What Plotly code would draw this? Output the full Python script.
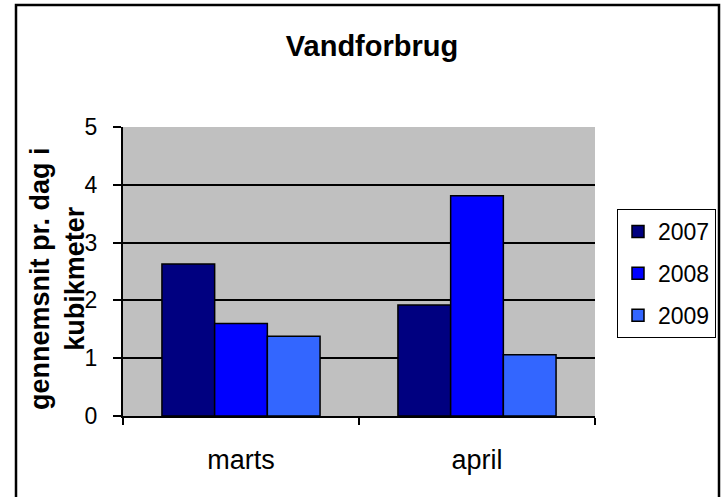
import plotly.graph_objects as go

categories = ["marts", "april"]
series_names = ["2007", "2008", "2009"]
values_2007 = [2.63, 1.92]
values_2008 = [1.60, 3.81]
values_2009 = [1.38, 1.06]
series_colors = ["#000080", "#0000FF", "#3366FF"]
y_ticks = [0, 1, 2, 3, 4, 5]

FONT = "Arial, Liberation Sans, sans-serif"

fig = go.Figure()
for i, (name, vals) in enumerate(zip(series_names, [values_2007, values_2008, values_2009])):
    fig.add_trace(go.Bar(
        x=categories, y=vals, name=name,
        legendgroup=name,
        marker=dict(color=series_colors[i], line=dict(color="black", width=1.5)),
    ))

W, H = 724, 497
L, R, T, B = 123, 724 - 595, 127, 497 - 416
pw, ph = W - L - R, H - T - B

def px_x(x):
    return (x - L) / pw

def px_y(y):
    return (H - B - y) / ph

fig.update_layout(
    width=W, height=H,
    margin=dict(l=L, r=R, t=T, b=B, autoexpand=False),
    paper_bgcolor="white",
    plot_bgcolor="#C0C0C0",
    font=dict(family=FONT, color="black", size=22),
    barmode="group",
    bargap=0.33,
    bargroupgap=0,
    title=dict(text="<b>Vandforbrug</b>", x=372 / W, xanchor="center",
               y=1 - 46 / H, yanchor="middle",
               font=dict(size=29, family=FONT, color="black")),
    legend=dict(
        xref="container", yref="container",
        x=617 / W, xanchor="left", y=1 - 209 / H, yanchor="top",
        bordercolor="black", borderwidth=1, bgcolor="white",
        font=dict(size=23, family=FONT, color="black"),
        tracegroupgap=9, itemwidth=30,
    ),
    showlegend=True,
)

fig.update_xaxes(
    showline=True, linecolor="black", linewidth=2,
    ticks="outside", ticklen=7, tickwidth=1.5, tickcolor="black",
    tickson="boundaries", showgrid=False,
    ticklabelstandoff=19,
    tickfont=dict(size=27, family=FONT, color="black"),
)
fig.update_yaxes(
    range=[0, 5], tickvals=y_ticks,
    showline=True, linecolor="black", linewidth=2,
    ticks="outside", ticklen=8, tickwidth=1.5, tickcolor="black",
    showgrid=True, gridcolor="black", gridwidth=1.5,
    zeroline=False,
    ticklabelstandoff=11,
    tickfont=dict(size=23, family=FONT, color="black"),
)

fig.add_annotation(
    text="<b>gennemsnit pr. dag i<br>kubikmeter</b>",
    xref="paper", yref="paper", x=px_x(57), y=px_y(279),
    xanchor="center", yanchor="middle", textangle=-90,
    showarrow=False, font=dict(size=27, family=FONT, color="black"),
)

# outer chart border
fig.add_shape(type="rect", xref="paper", yref="paper",
              x0=px_x(16), x1=px_x(719), y0=px_y(503), y1=px_y(5),
              line=dict(color="black", width=2.5), fillcolor="rgba(0,0,0,0)", layer="above")

fig.write_html("out.html", config={"displayModeBar": False},
               post_script="document.body.style.margin='0px';")
